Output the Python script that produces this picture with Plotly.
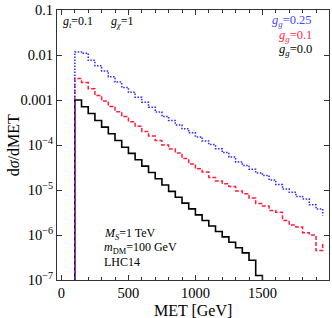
import plotly.graph_objects as go

# bin lower edges (GeV), 50 GeV bins
met_bins = [100 + 50 * i for i in range(38)]

blue_gg025 = [1.17e-2, 1.10e-2, 7.6e-3, 5.8e-3, 4.4e-3, 3.3e-3, 2.5e-3, 1.9e-3,
              1.48e-3, 1.15e-3, 8.9e-4, 6.9e-4, 5.4e-4, 4.3e-4, 3.5e-4, 2.8e-4,
              2.3e-4, 1.86e-4, 1.51e-4, 1.23e-4, 1.02e-4, 8.3e-5, 6.8e-5, 5.4e-5,
              4.2e-5, 3.5e-5, 2.9e-5, 2.4e-5, 2.1e-5, 1.66e-5, 1.32e-5, 1.05e-5,
              8.9e-6, 7.2e-6, 6.3e-6, 4.7e-6, 3.8e-6, 2.7e-6]

red_gg01 = [3.0e-3, 2.45e-3, 1.78e-3, 1.26e-3, 9.5e-4, 7.2e-4, 5.5e-4, 4.3e-4,
            3.3e-4, 2.6e-4, 2.0e-4, 1.58e-4, 1.26e-4, 1.0e-4, 8.1e-5, 6.6e-5,
            5.0e-5, 3.8e-5, 2.95e-5, 2.5e-5, 1.9e-5, 1.58e-5, 1.38e-5, 1.2e-5,
            9.5e-6, 8.3e-6, 6.6e-6, 5.0e-6, 4.4e-6, 3.5e-6, 3.2e-6, 2.1e-6,
            1.66e-6, 1.5e-6, 1.12e-6, 1.0e-6, 4.5e-7, 7.1e-7]

black_gg0 = [1.0e-3, 7.1e-4, 5.0e-4, 3.5e-4, 2.5e-4, 1.78e-4, 1.26e-4, 8.9e-5,
             6.5e-5, 4.7e-5, 3.4e-5, 2.45e-5, 1.78e-5, 1.29e-5, 9.3e-6, 6.9e-6,
             5.1e-6, 3.8e-6, 2.8e-6, 2.1e-6, 1.58e-6, 1.2e-6, 9.1e-7, 6.9e-7,
             5.2e-7, 4.0e-7, 2.75e-7, 1.26e-7, 8.5e-8]

floor_value = 1e-9  # below the plotted range, gives the rising edge at 100 GeV

ytick_vals = [1e-1, 1e-2, 1e-3, 1e-4, 1e-5, 1e-6, 1e-7]
ytick_text = ["0.1", "0.01", "0.001", "10<sup>−4</sup>", "10<sup>−5</sup>",
              "10<sup>−6</sup>", "10<sup>−7</sup>"]
xtick_vals = [0, 500, 1000, 1500]

BLUE = "rgb(40,40,255)"
RED = "rgb(255,30,60)"
BLACK = "rgb(0,0,0)"
FONT = "Liberation Serif"

fig = go.Figure()

def add_hist(values, color, dash, width):
    xs = [met_bins[0]] + met_bins[:len(values)]
    ys = [floor_value] + values
    fig.add_trace(go.Scatter(x=xs, y=ys, mode="lines", line_shape="hv",
                             line=dict(color=color, dash=dash, width=width),
                             showlegend=False, hoverinfo="skip"))

add_hist(black_gg0, BLACK, "solid", 1.6)
add_hist(red_gg01, RED, "4px,2px", 1.5)
add_hist(blue_gg025, BLUE, "1.5px,1.5px", 1.5)

axis_common = dict(showline=True, mirror="ticks", linecolor="#333", linewidth=1,
                   ticks="inside", tickcolor="#333", showgrid=False, zeroline=False,
                   tickfont=dict(family=FONT, size=14.5, color="black"))

fig.update_xaxes(range=[-33, 1997], tickvals=xtick_vals, ticklen=5,
                 minor=dict(dtick=100, ticks="inside", ticklen=3, tickcolor="#333"),
                 **axis_common)
fig.update_yaxes(type="log", range=[-7, -1], tickvals=ytick_vals, ticktext=ytick_text,
                 ticklen=5, **axis_common)

ann_font = dict(family=FONT, size=12, color="black")
annotations = [
    dict(x=-0.01, y=0.5, xref="paper", yref="paper", xanchor="center", yanchor="middle",
         text="d<i>σ</i>/dMET", textangle=-90, xshift=-41,
         font=dict(family=FONT, size=16, color="black")),
    dict(x=0.5, y=0, xref="paper", yref="paper", xanchor="center", yanchor="middle",
         text="MET [GeV]", yshift=-30,
         font=dict(family=FONT, size=16, color="black")),
    dict(x=0.015, y=0.956, xref="paper", yref="paper", xanchor="left", yanchor="middle",
         text="<i>g</i><sub><i>t</i></sub>=0.1", font=ann_font),
    dict(x=0.19, y=0.956, xref="paper", yref="paper", xanchor="left", yanchor="middle",
         text="<i>g</i><sub><i>χ</i></sub>=1", font=ann_font),
    dict(x=0.945, y=0.958, xref="paper", yref="paper", xanchor="right", yanchor="middle",
         text="<i>g</i><sub><i>g</i></sub>=0.25",
         font=dict(family=FONT, size=12.5, color="rgb(70,70,255)")),
    dict(x=0.945, y=0.905, xref="paper", yref="paper", xanchor="right", yanchor="middle",
         text="<i>g</i><sub><i>g</i></sub>=0.1",
         font=dict(family=FONT, size=12.5, color="rgb(255,40,70)")),
    dict(x=0.945, y=0.852, xref="paper", yref="paper", xanchor="right", yanchor="middle",
         text="<i>g</i><sub><i>g</i></sub>=0.0",
         font=dict(family=FONT, size=12.5, color="black")),
    dict(x=0.165, y=0.17, xref="paper", yref="paper", xanchor="left", yanchor="middle",
         text="<i>M</i><sub><i>S</i></sub>=1 TeV", font=ann_font),
    dict(x=0.165, y=0.12, xref="paper", yref="paper", xanchor="left", yanchor="middle",
         text="<i>m</i><sub>DM</sub>=100 GeV", font=ann_font),
    dict(x=0.165, y=0.065, xref="paper", yref="paper", xanchor="left", yanchor="middle",
         text="LHC14", font=ann_font),
]
for a in annotations:
    a["showarrow"] = False

fig.update_layout(width=332, height=318, margin=dict(l=57, r=2, t=8, b=38),
                  paper_bgcolor="white", plot_bgcolor="white",
                  annotations=annotations)

fig.write_html("out.html", config={"displayModeBar": False},
               post_script="document.body.style.margin='0';document.body.style.overflow='hidden';")
